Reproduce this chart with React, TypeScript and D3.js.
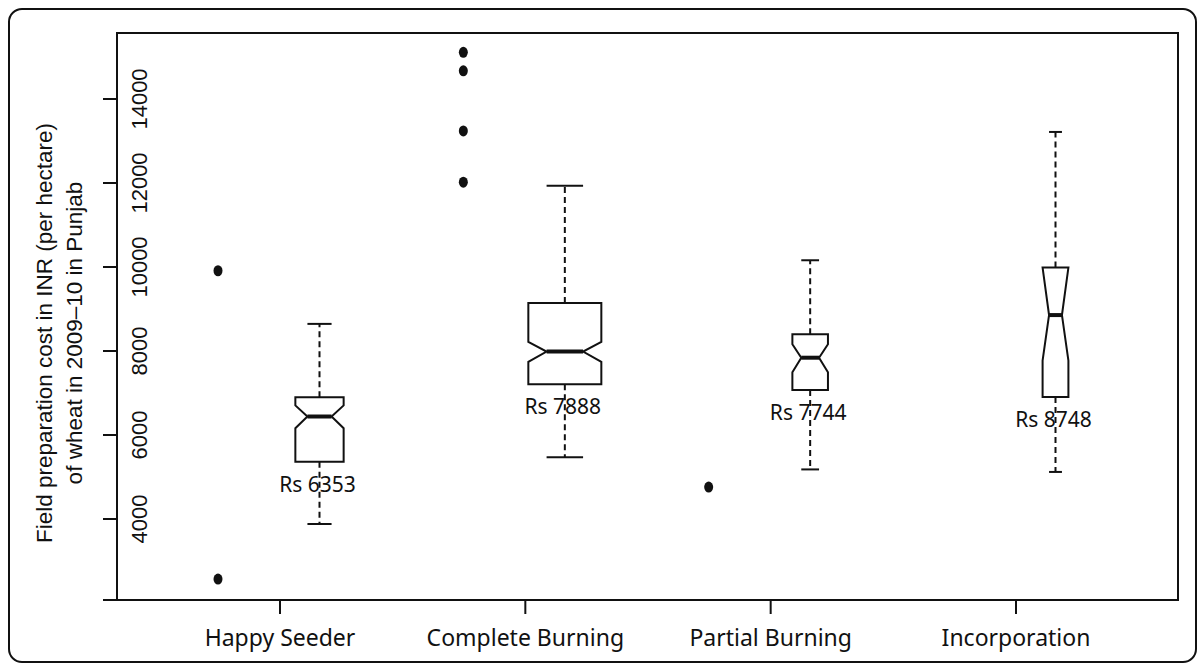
import React, { useEffect, useRef } from 'react';
import * as d3 from 'd3';

// Field preparation cost boxplots (notched, width ~ sqrt(n))
const categories = ['Happy Seeder', 'Complete Burning', 'Partial Burning', 'Incorporation'];
const sampleSizes = [35, 80, 19, 10];
const whiskerLow = [3880, 5470, 5180, 5120];
const q1 = [5365, 7205, 7070, 6905];
const notchLow = [6160, 7740, 7495, 7770];
const medians = [6440, 7985, 7840, 8855];
const notchHigh = [6705, 8215, 8160, 9985];
const q3 = [6900, 9145, 8400, 9985];
const whiskerHigh = [8645, 11935, 10160, 13215];
const meanLabels = ['Rs 6353', 'Rs 7888', 'Rs 7744', 'Rs 8748'];
const outliers: number[][] = [[9910, 2570], [15110, 14670, 13240, 12020], [4760], []];
const yTicks = [4000, 6000, 8000, 10000, 12000, 14000];
const yLabelLines = ['Field preparation cost in INR (per hectare)', 'of wheat in 2009\u201310 in Punjab'];

const W = 1202;
const H = 666;
const plot = { left: 117, right: 1178, top: 33, bottom: 600 };

const App: React.FC = () => {
  const svgRef = useRef<SVGSVGElement>(null);

  useEffect(() => {
    if (!svgRef.current) return;
    const svg = d3.select(svgRef.current);
    svg.selectAll('*').remove();

    const y = d3.scaleLinear().domain([2071, 15571]).range([plot.bottom, plot.top]);
    const x = d3.scalePoint<string>().domain(categories).range([280, 1016]);
    const maxN = d3.max(sampleSizes) as number;
    const boxW = d3.scaleSqrt().domain([0, maxN]).range([0, 73]);

    const axisFont = '"Liberation Sans", Arial, sans-serif';
    const labelFont = '"Noto Sans", "Open Sans", sans-serif';
    const ink = '#111';

    // outer rounded frame
    svg.append('rect')
      .attr('x', 9).attr('y', 9)
      .attr('width', 1187).attr('height', 653)
      .attr('rx', 13)
      .attr('fill', 'none').attr('stroke', ink).attr('stroke-width', 2);

    // plot box
    svg.append('rect')
      .attr('x', plot.left).attr('y', plot.top)
      .attr('width', plot.right - plot.left).attr('height', plot.bottom - plot.top)
      .attr('fill', 'none').attr('stroke', ink).attr('stroke-width', 2);

    // bottom axis line runs a little left past the box
    svg.append('line')
      .attr('x1', 103).attr('x2', plot.right)
      .attr('y1', plot.bottom).attr('y2', plot.bottom)
      .attr('stroke', ink).attr('stroke-width', 2);

    // y ticks + rotated labels inside the box
    const yg = svg.append('g');
    yTicks.forEach(t => {
      yg.append('line')
        .attr('x1', 103).attr('x2', plot.left)
        .attr('y1', y(t)).attr('y2', y(t))
        .attr('stroke', ink).attr('stroke-width', 2);
      yg.append('text')
        .attr('transform', `translate(147,${y(t)}) rotate(-90)`)
        .attr('text-anchor', 'middle')
        .attr('font-family', axisFont)
        .attr('font-size', 22)
        .attr('fill', ink)
        .text(t);
    });

    // y axis title (two lines)
    yLabelLines.forEach((line, i) => {
      svg.append('text')
        .attr('transform', `translate(${52 + i * 30},333) rotate(-90)`)
        .attr('text-anchor', 'middle')
        .attr('font-family', axisFont)
        .attr('font-size', 22.5)
        .attr('fill', ink)
        .text(line);
    });

    // x ticks + labels
    categories.forEach(c => {
      const cx = x(c) as number;
      svg.append('line')
        .attr('x1', cx).attr('x2', cx)
        .attr('y1', plot.bottom).attr('y2', plot.bottom + 14)
        .attr('stroke', ink).attr('stroke-width', 2);
      svg.append('text')
        .attr('x', cx).attr('y', 646)
        .attr('text-anchor', 'middle')
        .attr('font-family', labelFont)
        .attr('font-size', 23)
        .attr('fill', ink)
        .text(c);
    });

    // boxes
    categories.forEach((c, i) => {
      const cx = (x(c) as number) + 39.5;
      const w = boxW(sampleSizes[i]);
      const g = svg.append('g');

      // whiskers
      g.append('line')
        .attr('x1', cx).attr('x2', cx)
        .attr('y1', y(q3[i])).attr('y2', y(whiskerHigh[i]))
        .attr('stroke', ink).attr('stroke-width', 2).attr('stroke-dasharray', '6,4');
      g.append('line')
        .attr('x1', cx).attr('x2', cx)
        .attr('y1', y(q1[i])).attr('y2', y(whiskerLow[i]))
        .attr('stroke', ink).attr('stroke-width', 2).attr('stroke-dasharray', '6,4');
      [whiskerHigh[i], whiskerLow[i]].forEach(v => {
        g.append('line')
          .attr('x1', cx - w / 4).attr('x2', cx + w / 4)
          .attr('y1', y(v)).attr('y2', y(v))
          .attr('stroke', ink).attr('stroke-width', 2);
      });

      // notched box
      const pts: [number, number][] = [
        [cx - w / 2, y(q3[i])],
        [cx - w / 2, y(notchHigh[i])],
        [cx - w / 4, y(medians[i])],
        [cx - w / 2, y(notchLow[i])],
        [cx - w / 2, y(q1[i])],
        [cx + w / 2, y(q1[i])],
        [cx + w / 2, y(notchLow[i])],
        [cx + w / 4, y(medians[i])],
        [cx + w / 2, y(notchHigh[i])],
        [cx + w / 2, y(q3[i])],
      ];
      g.append('path')
        .attr('d', d3.line()(pts) + 'Z')
        .attr('fill', '#fff').attr('stroke', ink).attr('stroke-width', 2)
        .attr('stroke-linejoin', 'miter');

      // median
      g.append('line')
        .attr('x1', cx - w / 4).attr('x2', cx + w / 4)
        .attr('y1', y(medians[i])).attr('y2', y(medians[i]))
        .attr('stroke', ink).attr('stroke-width', 4);

      // mean label
      g.append('text')
        .attr('x', cx - 2).attr('y', y(q1[i]) + 30)
        .attr('text-anchor', 'middle')
        .attr('font-family', labelFont)
        .attr('font-size', 21)
        .attr('fill', ink)
        .text(meanLabels[i]);

      // outliers
      outliers[i].forEach(v => {
        g.append('ellipse')
          .attr('cx', (x(c) as number) - 62).attr('cy', y(v))
          .attr('rx', 4.5).attr('ry', 5.5)
          .attr('fill', ink);
      });
    });
  }, []);

  return (
    <svg
      ref={svgRef}
      width={W}
      height={H}
      style={{ position: 'absolute', left: 0, top: 0, background: '#fff' }}
    />
  );
};

export default App;
